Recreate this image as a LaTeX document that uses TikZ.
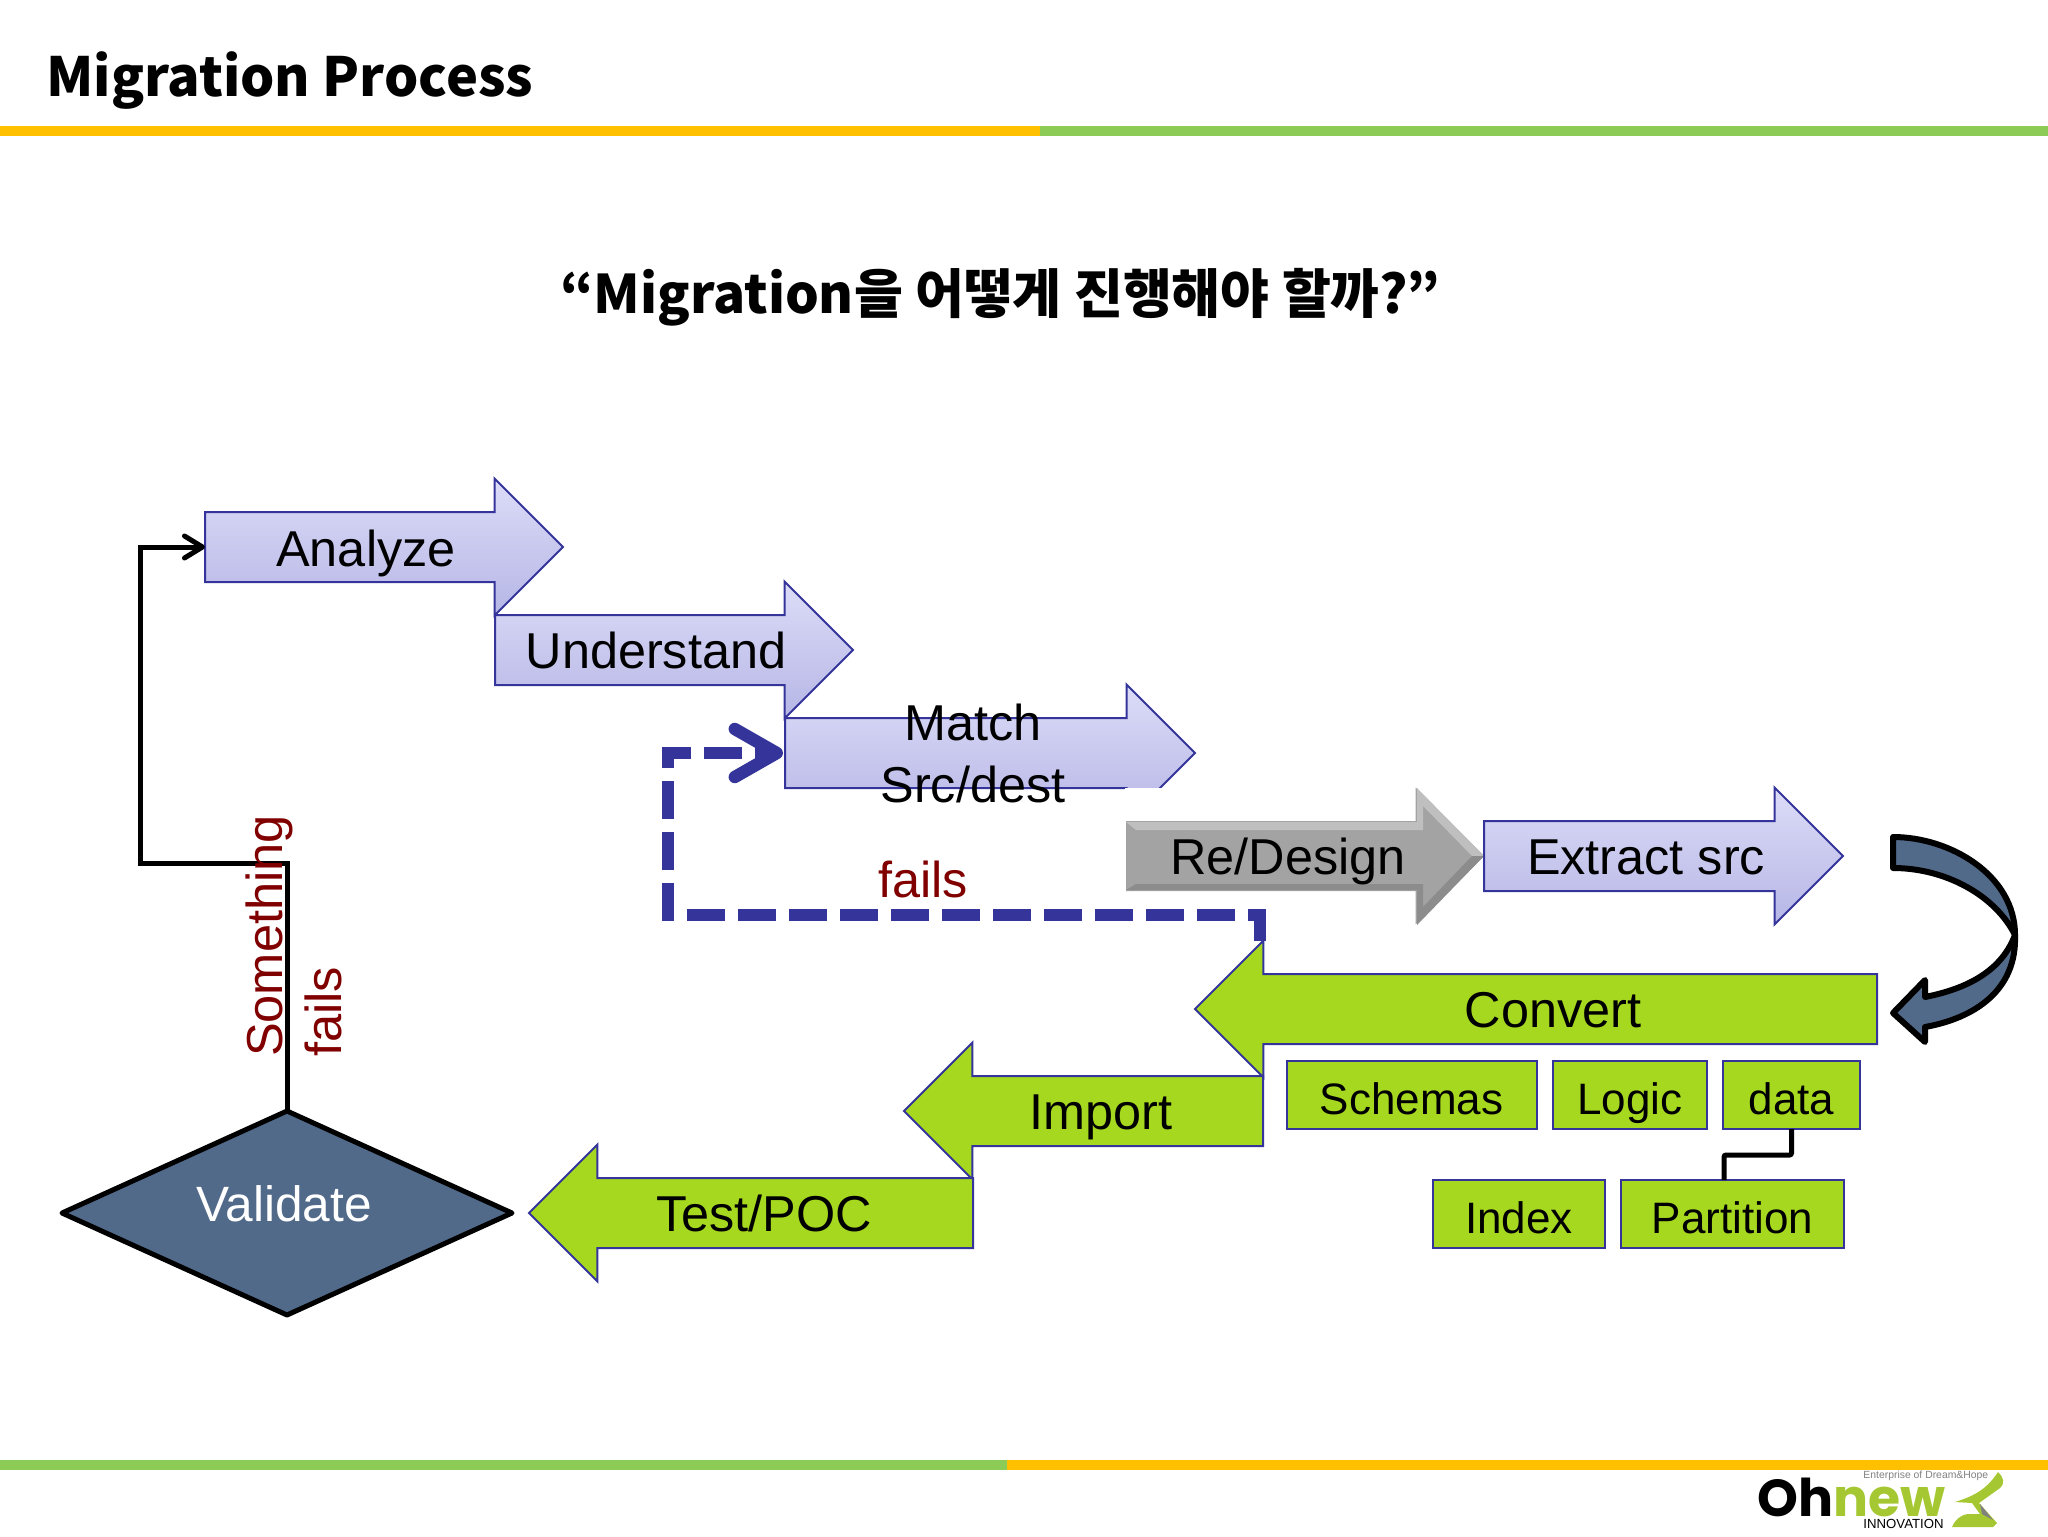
\documentclass[tikz,border=0pt]{standalone}
\usepackage{fontspec}
\setmainfont{Liberation Sans}
\newfontfamily\krfont{Noto Sans CJK KR}
\newfontfamily\logofont{Poppins}
\usetikzlibrary{arrows.meta,shapes.arrows,shapes.geometric}
\definecolor{edgeblue}{HTML}{34349A}
\definecolor{liltop}{HTML}{DCDCF8}
\definecolor{lilbot}{HTML}{B6B6E6}
\definecolor{leaf}{HTML}{A6D81F}
\definecolor{slate}{HTML}{526A8A}
\definecolor{failred}{HTML}{800000}
\definecolor{barorange}{HTML}{FFC000}
\definecolor{bargreen}{HTML}{8CCB55}
\definecolor{logogreen}{HTML}{A5C832}
\tikzset{
  flowarrow/.style={single arrow,draw=edgeblue,line width=1pt,inner sep=17pt,outer sep=0pt,
    single arrow head extend=16.7pt,anchor=tail},
  lilarrow/.style={flowarrow,top color=liltop,bottom color=lilbot},
  leafarrow/.style={flowarrow,fill=leaf,shape border rotate=180},
  greyarrow/.style={flowarrow,draw=none,fill=black!36},
  subbox/.style={draw=edgeblue,fill=leaf,line width=1pt,minimum height=34pt,outer sep=0pt,inner sep=0pt,
    text height=19.5pt,text depth=0pt,font=\fontsize{22}{26}\selectfont},
  steplabel/.style={font=\fontsize{25.2}{31}\selectfont,align=center,inner sep=0pt},
  onelabel/.style={steplabel,text height=18pt,text depth=0pt},
  faillabel/.style={steplabel,text=failred},
  loopline/.style={line width=2.5pt,black},
  faildash/.style={line width=6.2pt,edgeblue,dash pattern=on 19pt off 6.5pt}
}
\begin{document}
\begin{tikzpicture}[x=0.5pt,y=-0.5pt]
  \useasboundingbox (0,0) rectangle (2048,1536);
  % title and bars
  \node[anchor=west,inner sep=0pt,font=\krfont\bfseries\fontsize{27}{34}\selectfont] (title) at (46,81) {Migration Process};
  \node[inner sep=0pt,font=\krfont\bfseries\fontsize{26.6}{32}\selectfont] (question) at (1000,297) {“Migration을 어떻게 진행해야 할까?”};
  \fill[barorange] (0,126) rectangle (1040,136);
  \fill[bargreen] (1040,126) rectangle (2048,136);
  \fill[bargreen] (0,1460) rectangle (1007,1470);
  \fill[barorange] (1007,1460) rectangle (2048,1470);

  % upper arrows
  \node[lilarrow,minimum height=179pt] (analyze) at (205,547) {};
  \node[lilarrow,minimum height=179pt] (understand) at (495,650) {};
  \node[lilarrow,minimum height=205pt] (match) at (785,753) {};
  \fill[white] (1125,788) rectangle (1215,826);
  \node[greyarrow,minimum height=179pt] (redesign) at (1126,856) {};
  \fill[black!25] (1126,822) -- (1417,822) -- (1417,788) -- (1484,856) -- (1472,856) -- (1423,806) -- (1423,830) -- (1136,830) -- cycle;
  \fill[black!45] (1126,890) -- (1417,890) -- (1417,925) -- (1484,856) -- (1472,856) -- (1423,907) -- (1423,884) -- (1136,884) -- cycle;
  \node[lilarrow,minimum height=179.5pt] (extract) at (1484,856) {};

  % lower arrows
  \node[leafarrow,minimum height=341pt] (convert) at (1877,1009) {};
  \node[leafarrow,minimum height=179.5pt] (import) at (1263,1111) {};
  \node[leafarrow,minimum height=222pt] (testpoc) at (973,1213) {};

  \node[onelabel] (analyzetext) at (366,548) {Analyze};
  \node[onelabel] (understandtext) at (656,650) {Understand};
  \node[steplabel] (matchtext) at (973,753) {Match\\Src/dest};
  \node[onelabel] (redesigntext) at (1288,856) {Re/Design};
  \node[onelabel] (extracttext) at (1646,856) {Extract src};
  \node[onelabel] (converttext) at (1553,1009) {Convert};
  \node[onelabel] (importtext) at (1101,1111) {Import};
  \node[onelabel] (testpoctext) at (764,1213) {Test/POC};

  % sub steps
  \node[subbox,minimum width=125pt] (schemas) at (1411.5,1095) {Schemas};
  \node[subbox,minimum width=77pt] (logic) at (1630,1095) {Logic};
  \node[subbox,minimum width=68.5pt] (data) at (1791.5,1095) {data};
  \node[subbox,minimum width=86pt] (index) at (1519,1214) {Index};
  \node[subbox,minimum width=111.5pt] (partition) at (1732.5,1214) {Partition};
  \coordinate (partitiontop) at (1724,1180);
  \draw[loopline,rounded corners=1pt] (data.south) |- (1724,1155) -- (partitiontop);

  % validate and the way back
  \node[diamond,draw=black,line width=2.5pt,fill=slate,minimum width=225pt,minimum height=102pt,
    inner sep=0pt,outer sep=0pt,line join=round] (validate) at (287,1213) {};
  \node[inner sep=0pt,text=white,font=\fontsize{24.8}{30}\selectfont] (validatetext) at (284,1204) {Validate};
  \draw[loopline,-{Straight Barb[length=9pt,width=11pt,round]}] (validate.north) |- (140,863) |- (analyze.tail);
  \node[faillabel,rotate=90,align=left,font=\fontsize{25.3}{29.5}\selectfont] (somethingfails) at (294,936) {Something\\fails};

  % redo path
  \coordinate (dashstart) at (1260,941);
  \draw[faildash,shorten >=1pt,-{Straight Barb[length=21pt,width=24pt,round]}] (dashstart) |- (668,915) |- (match.tail);
  \node[faillabel] (failstext) at (923,879) {fails};

  % curved arrow
  \begin{scope}[draw=black,fill=slate,line width=3pt,line join=round]
    \filldraw (2015,935) .. controls (2017,990) and (1975,1018) .. (1925,1027) -- (1925,1042) -- (1893,1013) -- (1925,980)
      -- (1925,997) .. controls (1960,990) and (2000,975) .. (2015,935) -- cycle;
    \filldraw (1893,837) .. controls (1950,837) and (2015,875) .. (2015,935)
      .. controls (1995,895) and (1945,868) .. (1893,868) -- cycle;
  \end{scope}

  % logo
  \node[anchor=west,inner sep=0pt,font=\logofont\bfseries\fontsize{26}{32}\selectfont] (logoname) at (1757,1497) {Oh\textcolor{logogreen}{new}};
  \node[anchor=west,inner sep=0pt,text=gray,font=\fontsize{5.2}{7}\selectfont] (logotag) at (1863,1476) {Enterprise of Dream\&Hope};
  \node[anchor=west,inner sep=0pt,font=\fontsize{6.6}{8}\selectfont] (logosub) at (1863,1524) {INNOVATION};
  \fill[logogreen] (1998,1472) .. controls (2004,1478) and (2005,1483) .. (2000,1488) -- (1979,1503) -- (1997,1523)
    -- (1993,1527) .. controls (1980,1527) and (1965,1527) .. (1952,1527) .. controls (1955,1520) and (1960,1515) .. (1968,1514)
    -- (1980,1514) -- (1972,1503) -- (1955,1502) .. controls (1970,1497) and (1985,1492) .. (1998,1472) -- cycle;
  \fill[gray] (1980,1504) -- (1993,1520) -- (1982,1514) -- cycle;
\end{tikzpicture}
\end{document}
